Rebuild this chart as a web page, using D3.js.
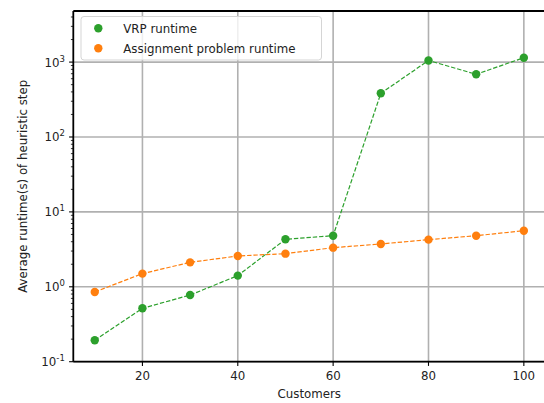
<!DOCTYPE html>
<html>
<head>
<meta charset="utf-8">
<script src="https://cdn.jsdelivr.net/npm/d3@7"></script>
<style>
  body { margin: 0; background: #fff; }
  svg { display: block; font-family: "DejaVu Sans", sans-serif; }
</style>
</head>
<body>
<svg width="544" height="403"></svg>
<script>
const customers = [10, 20, 30, 40, 50, 60, 70, 80, 90, 100];
const vrpRuntime = [0.193, 0.516, 0.776, 1.41, 4.31, 4.81, 383, 1050, 687, 1145];
const assignRuntime = [0.853, 1.50, 2.12, 2.58, 2.77, 3.33, 3.73, 4.26, 4.81, 5.61];
const xTicks = [20, 40, 60, 80, 100];
const yTicks = [0.1, 1, 10, 100, 1000];
const seriesNames = ["VRP runtime", "Assignment problem runtime"];

const svg = d3.select("svg");
const pLeft = 73.3, pRight = 545.3, pTop = 11, pBottom = 361.7;
const fs = 11.8;

const x = d3.scaleLinear().domain([5.5, 104.5]).range([pLeft, pRight]);
const y = d3.scaleLog().domain([0.1, 4810]).range([pBottom, pTop]);

// grid
svg.append("g").selectAll("line").data(xTicks).enter().append("line")
  .attr("x1", d => x(d)).attr("x2", d => x(d)).attr("y1", pTop).attr("y2", pBottom)
  .attr("stroke", "#b0b0b0").attr("stroke-width", 1.6);
svg.append("g").selectAll("line").data(yTicks).enter().append("line")
  .attr("x1", pLeft).attr("x2", pRight).attr("y1", d => y(d)).attr("y2", d => y(d))
  .attr("stroke", "#b0b0b0").attr("stroke-width", 1.6);

// minor ticks on log axis
const minor = [];
[0.1, 1, 10, 100, 1000].forEach(b => { for (let k = 2; k <= 9; k++) if (b * k < 4810) minor.push(b * k); });
svg.append("g").selectAll("line").data(minor).enter().append("line")
  .attr("x1", pLeft - 2.4).attr("x2", pLeft).attr("y1", d => y(d)).attr("y2", d => y(d))
  .attr("stroke", "#000").attr("stroke-width", 0.8);

// major ticks
svg.append("g").selectAll("line").data(yTicks).enter().append("line")
  .attr("x1", pLeft - 4.2).attr("x2", pLeft).attr("y1", d => y(d)).attr("y2", d => y(d))
  .attr("stroke", "#000").attr("stroke-width", 1.1);
svg.append("g").selectAll("line").data(xTicks).enter().append("line")
  .attr("x1", d => x(d)).attr("x2", d => x(d)).attr("y1", pBottom).attr("y2", pBottom + 4.2)
  .attr("stroke", "#000").attr("stroke-width", 1.1);

// tick labels
svg.append("g").selectAll("text").data(xTicks).enter().append("text")
  .attr("x", d => x(d)).attr("y", pBottom + 18.5)
  .attr("text-anchor", "middle").attr("font-size", fs).attr("fill", "#222")
  .text(d => d);
const yl = svg.append("g").selectAll("text").data(yTicks).enter().append("text")
  .attr("x", pLeft - 8.5).attr("y", d => y(d) + 4.5)
  .attr("text-anchor", "end").attr("font-size", fs).attr("fill", "#222");
yl.append("tspan").text("10");
yl.append("tspan").attr("dy", -5).attr("font-size", fs * 0.72).text(d => Math.round(Math.log10(d)));

// axis labels
svg.append("text").attr("x", (pLeft + pRight) / 2).attr("y", 398)
  .attr("text-anchor", "middle").attr("font-size", fs).attr("fill", "#222").text("Customers");
svg.append("text").attr("transform", `translate(26.5,${(pTop + pBottom) / 2}) rotate(-90)`)
  .attr("text-anchor", "middle").attr("font-size", fs).attr("fill", "#222")
  .text("Average runtime(s) of heuristic step");

// series
const series = [
  { values: vrpRuntime, color: "#2ca02c" },
  { values: assignRuntime, color: "#ff7f0e" }
];
const line = d3.line().x(d => x(d[0])).y(d => y(d[1]));
series.forEach(s => {
  const pts = customers.map((c, i) => [c, s.values[i]]);
  svg.append("path").datum(pts).attr("d", line)
    .attr("fill", "none").attr("stroke", s.color).attr("stroke-width", 1.2)
    .attr("stroke-dasharray", "4.4,1.9");
  svg.append("g").selectAll("circle").data(pts).enter().append("circle")
    .attr("cx", d => x(d[0])).attr("cy", d => y(d[1])).attr("r", 4.2)
    .attr("fill", s.color);
});

// spines
svg.append("line").attr("x1", pLeft).attr("x2", pLeft).attr("y1", pTop).attr("y2", pBottom)
  .attr("stroke", "#000").attr("stroke-width", 1.8);
svg.append("line").attr("x1", pLeft).attr("x2", pRight).attr("y1", pBottom).attr("y2", pBottom)
  .attr("stroke", "#000").attr("stroke-width", 1.8);
svg.append("line").attr("x1", pLeft).attr("x2", pRight).attr("y1", pTop).attr("y2", pTop)
  .attr("stroke", "#000").attr("stroke-width", 1.8);

// legend
const lg = svg.append("g");
lg.append("rect").attr("x", 81).attr("y", 16.5).attr("width", 240.5).attr("height", 43.5)
  .attr("rx", 3).attr("fill", "#fff").attr("fill-opacity", 0.8)
  .attr("stroke", "#d5d5d5").attr("stroke-width", 1);
seriesNames.forEach((n, i) => {
  lg.append("circle").attr("cx", 98.3).attr("cy", 28.3 + i * 20).attr("r", 4.2).attr("fill", series[i].color);
  lg.append("text").attr("x", 123.3).attr("y", 32.5 + i * 20).attr("font-size", fs).attr("fill", "#222").text(n);
});
</script>
</body>
</html>
